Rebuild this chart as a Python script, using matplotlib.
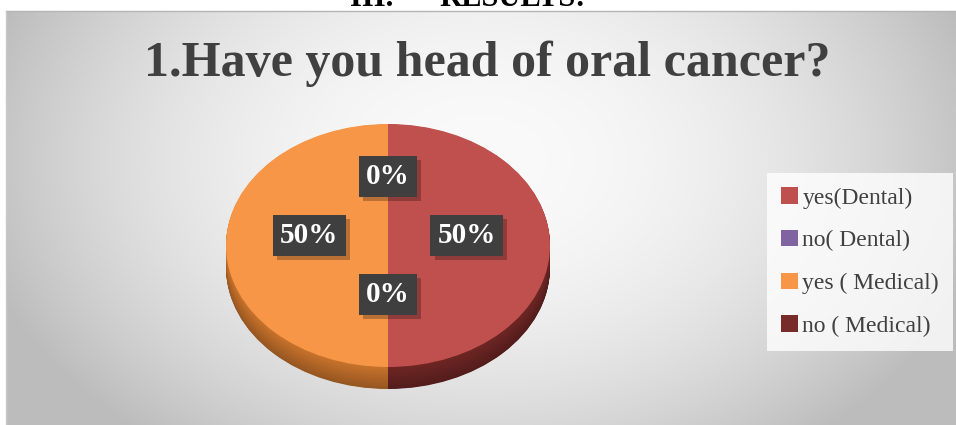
import numpy as np
import matplotlib
matplotlib.use("Agg")
import matplotlib.pyplot as plt
from matplotlib.patches import Patch
import matplotlib.patheffects as pe

# Survey answers
categories = ["yes(Dental)", "no( Dental)", "yes ( Medical)", "no ( Medical)"]
values = [50, 0, 50, 0]
pct_labels = ["50%", "0%", "50%", "0%"]
top_colors = ["#C0504D", "#8064A2", "#F79646", "#772C2A"]
side_colors = ["#6E2624", "#4A3A60", "#C8732C", "#4A1A19"]

title = "1.Have you head of oral cancer?"

W, H = 956, 425
fig = plt.figure(figsize=(W / 100, H / 100), dpi=100)
fig.patch.set_facecolor("white")

# ---- chart background: soft radial grey gradient ----
bg = fig.add_axes([0, 0, 1, 1])
bg.set_xlim(0, W)
bg.set_ylim(H, 0)
bg.axis("off")
x0, x1, y0, y1 = 6, 956, 11, 425
xx, yy = np.meshgrid(np.arange(x0, x1), np.arange(y0, y1))
d2 = ((xx - 480) / 520.0) ** 2 + ((yy - 160) / 360.0) ** 2
g = np.clip(250 - 62 * d2, 188, 252) / 255.0
bg.imshow(np.dstack([g, g, g]), extent=[x0, x1, y1, y0], aspect="auto",
          interpolation="bilinear")
bg.plot([x0, x1], [y0, y0], color="#b4b4b4", lw=1)
bg.plot([x0, x0], [y0, y1], color="#c8c8c8", lw=1)
bg.set_xlim(0, W)
bg.set_ylim(H, 0)

# heading of the page section, partly above the page edge
fig.text(350 / W, 1 - 6 / H, "III.", fontsize=22, weight="bold",
         family="Liberation Serif", color="black", va="baseline", ha="left")
fig.text(439 / W, 1 - 6 / H, "RESULTS:", fontsize=22, weight="bold",
         family="Liberation Serif", color="black", va="baseline", ha="left")

# ---- title ----
fig.text(487 / W, 1 - 76 / H, title, fontsize=36, weight="bold",
         family="Liberation Serif", color="#404040", ha="center", va="baseline")

# ---- 3D-looking pie ----
cx, cy, rx, ry, depth = 388, 245.5, 162, 121.5, 22
left = (cx - rx) / W
width = 2 * rx / W
bottom_px = cy + ry + depth
ax = fig.add_axes([left, (H - bottom_px) / H, width, (2 * ry + depth) / H])
ax.set_facecolor("none")

d = depth / ry
n_layers = 40
for i in range(n_layers, 0, -1):
    off = -d * i / n_layers
    shade = 1.0 - 0.25 * (i / n_layers)
    cols = [tuple(min(1, c * shade) for c in matplotlib.colors.to_rgb(sc))
            for sc in side_colors]
    ax.pie(values, colors=cols, startangle=90, counterclock=False,
           radius=1, center=(0, off), frame=False,
           wedgeprops=dict(linewidth=0))

wedges, _ = ax.pie(values, colors=top_colors, startangle=90, counterclock=False,
                   radius=1, center=(0, 0), frame=False,
                   wedgeprops=dict(linewidth=0))
ax.set_aspect("auto")
ax.set_xlim(-1, 1)
ax.set_ylim(-1 - d, 1)
ax.axis("off")

# ---- data labels ----
total = float(sum(values))
cum = 0.0
for v, lab in zip(values, pct_labels):
    mid = np.deg2rad(90 - 360 * (cum + v / 2) / total)
    cum += v
    lx = 0.485 * np.cos(mid)
    ly = 0.485 * np.sin(mid) + 0.085
    t = ax.text(lx, ly, lab, ha="center", va="center", fontsize=21, weight="bold",
                family="Liberation Serif", color="white",
                bbox=dict(boxstyle="square,pad=0.24", fc="#3F3F3F", lw=0),
                zorder=6)
    t.get_bbox_patch().set_path_effects(
        [pe.SimplePatchShadow(offset=(3, -3), shadow_rgbFace="black", alpha=0.25),
         pe.Normal()])

# ---- legend ----
handles = [Patch(facecolor=c, edgecolor="none") for c in top_colors]
leg = fig.legend(handles, categories, loc="upper left",
                 bbox_to_anchor=(767 / W, 1 - 173 / H),
                 frameon=True, fancybox=False,
                 prop=dict(family="Liberation Serif", size=17),
                 handlelength=0.7, handleheight=0.7, handletextpad=0.2,
                 labelspacing=0.9, borderpad=0.6, borderaxespad=0)
leg.get_frame().set_facecolor((1, 1, 1, 0.28))
leg.get_frame().set_edgecolor("none")
for t in leg.get_texts():
    t.set_color("#404040")

fig.savefig("out.png", dpi=100, facecolor="white")
